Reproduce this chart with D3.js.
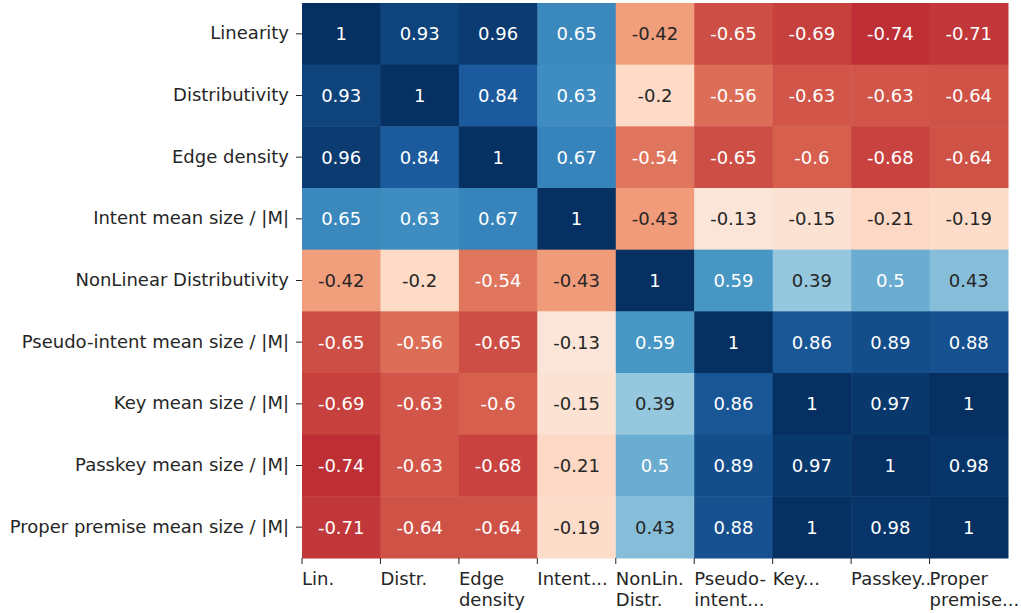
<!DOCTYPE html>
<html>
<head>
<meta charset="utf-8">
<script src="https://cdn.jsdelivr.net/npm/d3@7"></script>
<style>
  body { margin: 0; background: #fff; }
  svg text { font-family: "DejaVu Sans", sans-serif; }
</style>
</head>
<body>
<script>
const rowLabels = ["Linearity", "Distributivity", "Edge density", "Intent mean size / |M|",
  "NonLinear Distributivity", "Pseudo-intent mean size / |M|", "Key mean size / |M|",
  "Passkey mean size / |M|", "Proper premise mean size / |M|"];
const colLabels = [["Lin."], ["Distr."], ["Edge", "density"], ["Intent..."], ["NonLin.", "Distr."],
  ["Pseudo-", "intent..."], ["Key..."], ["Passkey..."], ["Proper", "premise..."]];
const matrix = [
  [1, 0.93, 0.96, 0.65, -0.42, -0.65, -0.69, -0.74, -0.71],
  [0.93, 1, 0.84, 0.63, -0.2, -0.56, -0.63, -0.63, -0.64],
  [0.96, 0.84, 1, 0.67, -0.54, -0.65, -0.6, -0.68, -0.64],
  [0.65, 0.63, 0.67, 1, -0.43, -0.13, -0.15, -0.21, -0.19],
  [-0.42, -0.2, -0.54, -0.43, 1, 0.59, 0.39, 0.5, 0.43],
  [-0.65, -0.56, -0.65, -0.13, 0.59, 1, 0.86, 0.89, 0.88],
  [-0.69, -0.63, -0.6, -0.15, 0.39, 0.86, 1, 0.97, 1],
  [-0.74, -0.63, -0.68, -0.21, 0.5, 0.89, 0.97, 1, 0.98],
  [-0.71, -0.64, -0.64, -0.19, 0.43, 0.88, 1, 0.98, 1]
];
// RdBu stops (same as the matplotlib colormap)
const rdbu = ["#67001f", "#b2182b", "#d6604d", "#f4a582", "#fddbc7", "#f7f7f7",
  "#d1e5f0", "#92c5de", "#4393c3", "#2166ac", "#053061"];

const width = 1021, height = 613;
const mLeft = 302, mRight = 1008, mTop = 3, mBottom = 558;
const fs = 18;

const svg = d3.select("body").append("svg")
  .attr("width", width).attr("height", height);

const x = d3.scaleBand().domain(d3.range(9)).range([mLeft, mRight]);
const y = d3.scaleBand().domain(d3.range(9)).range([mTop, mBottom]);
const color = d3.scaleLinear()
  .domain(d3.range(11).map(k => -1 + k * 0.2))
  .range(rdbu)
  .interpolate(d3.interpolateRgb);

const cells = [];
matrix.forEach((row, i) => row.forEach((v, j) => cells.push({i, j, v})));

function textColor(c) {
  const rgb = d3.rgb(c);
  const lin = [rgb.r, rgb.g, rgb.b].map(u => {
    u /= 255;
    return u <= 0.03928 ? u / 12.92 : Math.pow((u + 0.055) / 1.055, 2.4);
  });
  const lum = 0.2126 * lin[0] + 0.7152 * lin[1] + 0.0722 * lin[2];
  return lum > 0.408 ? "#262626" : "#ffffff";
}

svg.selectAll("rect.cell").data(cells).enter().append("rect")
  .attr("class", "cell")
  .attr("x", d => x(d.j))
  .attr("y", d => y(d.i))
  .attr("width", x.bandwidth() + 0.5)
  .attr("height", y.bandwidth() + 0.5)
  .attr("fill", d => color(d.v));

svg.selectAll("text.annot").data(cells).enter().append("text")
  .attr("class", "annot")
  .attr("x", d => x(d.j) + x.bandwidth() / 2)
  .attr("y", d => y(d.i) + y.bandwidth() / 2)
  .attr("text-anchor", "middle")
  .attr("dominant-baseline", "central")
  .attr("font-size", fs)
  .attr("fill", d => textColor(color(d.v)))
  .text(d => String(d.v));

// y axis
const yg = svg.append("g");
rowLabels.forEach((lab, i) => {
  const cy = y(i) + y.bandwidth() / 2;
  yg.append("line").attr("x1", mLeft - 6).attr("x2", mLeft)
    .attr("y1", cy).attr("y2", cy).attr("stroke", "#262626").attr("stroke-width", 1);
  yg.append("text").attr("x", mLeft - 13).attr("y", cy - 1)
    .attr("text-anchor", "end").attr("dominant-baseline", "central")
    .attr("font-size", fs).attr("fill", "#262626").text(lab);
});

// x axis (ticks at left edges of columns, labels left-aligned)
const xg = svg.append("g");
colLabels.forEach((lines, j) => {
  const tx = x(j);
  xg.append("line").attr("x1", tx).attr("x2", tx)
    .attr("y1", mBottom).attr("y2", mBottom + 6).attr("stroke", "#262626").attr("stroke-width", 1);
  const t = xg.append("text").attr("x", tx).attr("y", mBottom + 27)
    .attr("font-size", fs).attr("fill", "#262626");
  lines.forEach((ln, k) => {
    t.append("tspan").attr("x", tx).attr("dy", k === 0 ? 0 : 21).text(ln);
  });
});
</script>
</body>
</html>
